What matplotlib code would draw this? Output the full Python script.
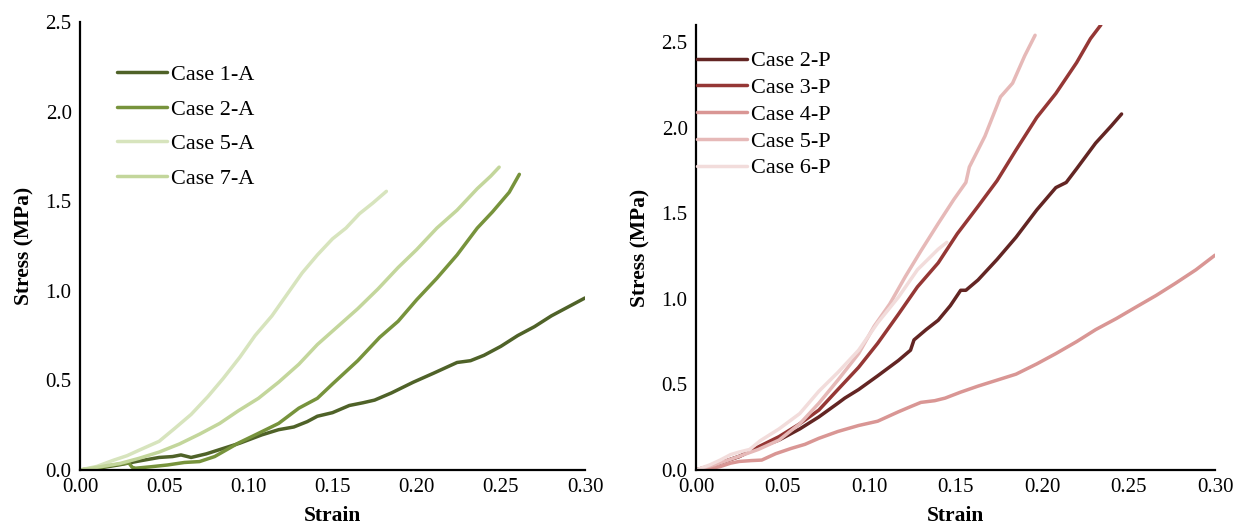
import matplotlib
matplotlib.use("Agg")
import matplotlib.pyplot as plt

plt.rcParams['font.family'] = ['Liberation Serif', 'DejaVu Serif']

# ---------------- Left panel data (A cases) ----------------
case1a_x = [0.0, 0.012, 0.024, 0.035, 0.047, 0.055, 0.060, 0.066, 0.075, 0.085, 0.095, 0.108, 0.118, 0.127, 0.135, 0.141, 0.150, 0.160, 0.168, 0.175, 0.185, 0.198, 0.210, 0.224, 0.232, 0.240, 0.250, 0.260, 0.270, 0.280, 0.290, 0.300]
case1a_y = [0.0, 0.012, 0.030, 0.050, 0.070, 0.075, 0.084, 0.070, 0.090, 0.120, 0.150, 0.196, 0.225, 0.240, 0.270, 0.300, 0.320, 0.360, 0.375, 0.390, 0.430, 0.490, 0.540, 0.600, 0.610, 0.640, 0.690, 0.750, 0.800, 0.860, 0.910, 0.960]

case2a_x = [0.0, 0.010, 0.020, 0.029, 0.031, 0.033, 0.042, 0.052, 0.062, 0.071, 0.080, 0.094, 0.105, 0.118, 0.130, 0.141, 0.150, 0.165, 0.178, 0.189, 0.200, 0.212, 0.224, 0.236, 0.245, 0.255, 0.261]
case2a_y = [0.0, 0.012, 0.028, 0.040, 0.015, 0.010, 0.018, 0.028, 0.042, 0.047, 0.075, 0.150, 0.200, 0.260, 0.345, 0.400, 0.480, 0.610, 0.740, 0.830, 0.950, 1.070, 1.200, 1.350, 1.440, 1.550, 1.650]

case5a_x = [0.0, 0.010, 0.020, 0.028, 0.035, 0.047, 0.056, 0.066, 0.076, 0.085, 0.095, 0.104, 0.114, 0.123, 0.132, 0.141, 0.150, 0.158, 0.166, 0.174, 0.182]
case5a_y = [0.0, 0.020, 0.055, 0.080, 0.110, 0.160, 0.230, 0.310, 0.410, 0.510, 0.630, 0.750, 0.860, 0.980, 1.100, 1.200, 1.290, 1.350, 1.430, 1.490, 1.555]

case7a_x = [0.0, 0.012, 0.024, 0.035, 0.047, 0.059, 0.071, 0.083, 0.094, 0.106, 0.118, 0.130, 0.141, 0.153, 0.165, 0.177, 0.189, 0.200, 0.212, 0.224, 0.236, 0.244, 0.249]
case7a_y = [0.0, 0.018, 0.037, 0.065, 0.100, 0.145, 0.200, 0.260, 0.330, 0.400, 0.490, 0.590, 0.700, 0.800, 0.900, 1.010, 1.130, 1.230, 1.350, 1.450, 1.570, 1.640, 1.690]

# ---------------- Right panel data (P cases) ----------------
case2p_x = [0.0, 0.012, 0.025, 0.036, 0.048, 0.060, 0.071, 0.082, 0.086, 0.094, 0.105, 0.117, 0.124, 0.126, 0.133, 0.140, 0.147, 0.153, 0.156, 0.163, 0.174, 0.185, 0.197, 0.208, 0.214, 0.220, 0.231, 0.240, 0.246]
case2p_y = [0.0, 0.035, 0.080, 0.130, 0.175, 0.240, 0.310, 0.390, 0.420, 0.470, 0.550, 0.640, 0.700, 0.760, 0.820, 0.875, 0.960, 1.050, 1.050, 1.110, 1.230, 1.360, 1.520, 1.650, 1.680, 1.760, 1.910, 2.010, 2.080]

case3p_x = [0.0, 0.012, 0.025, 0.036, 0.048, 0.060, 0.071, 0.082, 0.094, 0.105, 0.117, 0.128, 0.140, 0.151, 0.163, 0.174, 0.185, 0.197, 0.208, 0.220, 0.228, 0.234]
case3p_y = [0.0, 0.035, 0.078, 0.135, 0.195, 0.270, 0.350, 0.470, 0.600, 0.740, 0.910, 1.070, 1.210, 1.380, 1.540, 1.690, 1.870, 2.060, 2.200, 2.380, 2.520, 2.600]

case4p_x = [0.0, 0.008, 0.014, 0.020, 0.025, 0.032, 0.038, 0.046, 0.055, 0.063, 0.071, 0.082, 0.094, 0.105, 0.117, 0.124, 0.130, 0.138, 0.144, 0.153, 0.163, 0.174, 0.185, 0.197, 0.208, 0.220, 0.231, 0.243, 0.254, 0.266, 0.277, 0.289, 0.300]
case4p_y = [0.0, 0.008, 0.020, 0.040, 0.050, 0.055, 0.058, 0.095, 0.126, 0.150, 0.185, 0.225, 0.260, 0.285, 0.340, 0.370, 0.395, 0.405, 0.420, 0.455, 0.490, 0.525, 0.560, 0.620, 0.680, 0.750, 0.820, 0.885, 0.950, 1.020, 1.090, 1.170, 1.255]

case5p_x = [0.0, 0.012, 0.025, 0.036, 0.048, 0.060, 0.071, 0.082, 0.094, 0.103, 0.112, 0.121, 0.130, 0.140, 0.149, 0.156, 0.158, 0.167, 0.176, 0.183, 0.190, 0.196]
case5p_y = [0.0, 0.035, 0.080, 0.120, 0.175, 0.270, 0.390, 0.525, 0.680, 0.840, 0.970, 1.130, 1.280, 1.440, 1.580, 1.680, 1.770, 1.950, 2.180, 2.260, 2.420, 2.540]

case6p_x = [0.0, 0.008, 0.014, 0.020, 0.025, 0.031, 0.037, 0.048, 0.060, 0.071, 0.082, 0.094, 0.105, 0.117, 0.128, 0.135, 0.140, 0.145]
case6p_y = [0.0, 0.030, 0.058, 0.090, 0.105, 0.120, 0.170, 0.240, 0.330, 0.460, 0.570, 0.700, 0.860, 1.010, 1.170, 1.240, 1.290, 1.330]

left_series = [
    ("Case 1-A", case1a_x, case1a_y, "#4f6228"),
    ("Case 2-A", case2a_x, case2a_y, "#77933c"),
    ("Case 5-A", case5a_x, case5a_y, "#d7e4bd"),
    ("Case 7-A", case7a_x, case7a_y, "#c3d69b"),
]
right_series = [
    ("Case 2-P", case2p_x, case2p_y, "#632523"),
    ("Case 3-P", case3p_x, case3p_y, "#953735"),
    ("Case 4-P", case4p_x, case4p_y, "#d99694"),
    ("Case 5-P", case5p_x, case5p_y, "#e6b9b8"),
    ("Case 6-P", case6p_x, case6p_y, "#f2dcdb"),
]

x_ticks = [0.00, 0.05, 0.10, 0.15, 0.20, 0.25, 0.30]
y_ticks = [0.0, 0.5, 1.0, 1.5, 2.0, 2.5]

fig = plt.figure(figsize=(12.41, 5.24), dpi=100)
axL = fig.add_axes([80/1241, 1-470/524, (585-80)/1241, (470-22)/524])
axR = fig.add_axes([696/1241, 1-470/524, (1215-696)/1241, (470-25)/524])

def style(ax, ylim):
    ax.set_xlim(0, 0.30)
    ax.set_ylim(*ylim)
    ax.set_xticks(x_ticks)
    ax.set_xticklabels([f"{t:.2f}" for t in x_ticks])
    ax.set_yticks(y_ticks)
    ax.set_yticklabels([f"{t:.1f}" for t in y_ticks])
    ax.tick_params(length=0, labelsize=15, pad=6)
    ax.tick_params(axis='y', pad=6)
    for s in ['top', 'right']:
        ax.spines[s].set_visible(False)
    for s in ['left', 'bottom']:
        ax.spines[s].set_linewidth(1.6)
        ax.spines[s].set_color('black')
    ax.set_xlabel("Strain", fontsize=15.5, fontweight='bold', labelpad=6)
    ax.set_ylabel("Stress (MPa)", fontsize=15.5, fontweight='bold', labelpad=8)

for name, xs, ys, c in left_series:
    axL.plot(xs, ys, color=c, lw=2.5, label=name, solid_capstyle='round')
for name, xs, ys, c in right_series:
    axR.plot(xs, ys, color=c, lw=2.5, label=name, solid_capstyle='round')

style(axL, (0, 2.5))
style(axR, (0, 2.6))

axL.legend(loc='upper left', bbox_to_anchor=(0.055, 0.925), frameon=False,
           fontsize=16, handlelength=2.25, handletextpad=0.18, labelspacing=0.63,
           borderaxespad=0)
axR.legend(loc='upper left', bbox_to_anchor=(-0.016, 0.962), frameon=False,
           fontsize=16, handlelength=2.25, handletextpad=0.18, labelspacing=0.28,
           borderaxespad=0)

fig.savefig("out.png", dpi=100)
